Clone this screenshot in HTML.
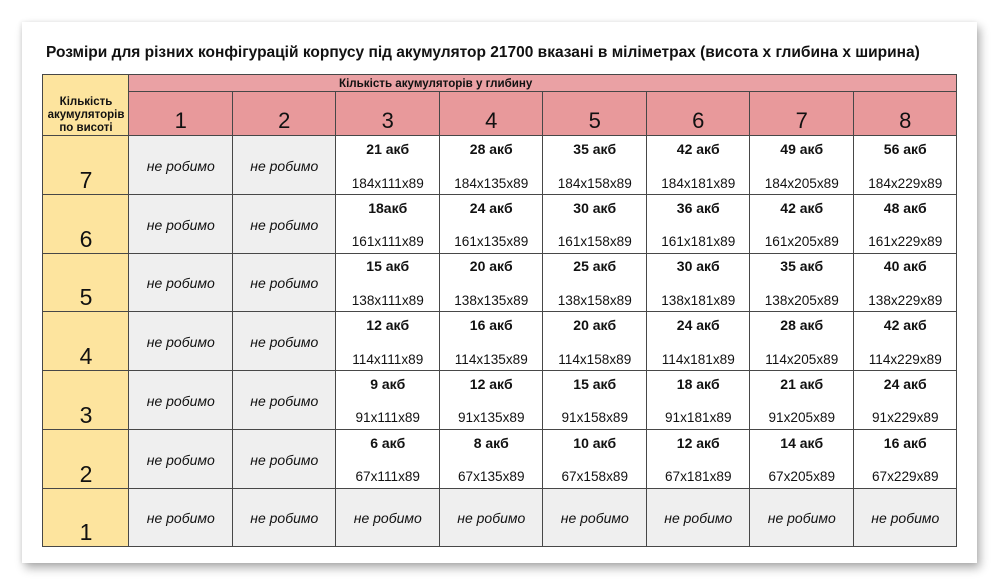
<!DOCTYPE html>
<html>
<head>
<meta charset="utf-8">
<style>
  html,body{margin:0;padding:0;background:#fff;}
  body{width:1000px;height:587px;position:relative;overflow:hidden;font-family:"Liberation Sans","Noto Sans CJK SC",sans-serif;color:#111;}
  .card{position:absolute;left:22px;top:22px;width:955px;height:541px;background:#fff;box-shadow:3px 5px 9px rgba(0,0,0,0.32),-1px 0 4px rgba(0,0,0,0.08);}
  .title{position:absolute;left:46px;top:42px;height:21px;line-height:21px;font-size:15.5px;font-weight:bold;white-space:nowrap;}
  .bg{position:absolute;}
  .v{position:absolute;width:1px;background:#474747;}
  .h{position:absolute;height:1px;background:#474747;}
  .sub{position:absolute;left:339px;top:75px;height:17px;line-height:17px;font-size:11.6px;font-weight:bold;white-space:nowrap;}
  .fh{position:absolute;left:43px;top:95.5px;width:86px;line-height:13px;font-size:11.5px;font-weight:bold;text-align:center;}
  .num{position:absolute;top:109px;width:103.5px;height:24px;line-height:24px;font-size:22px;text-align:center;}
  .row{position:absolute;left:0;width:1000px;height:58.71px;}
  .lab{position:absolute;left:43px;top:32px;width:86px;height:24px;line-height:24px;text-align:center;font-size:23px;}
  .nr{position:absolute;top:20px;width:103.5px;height:20px;line-height:20px;text-align:center;font-style:italic;font-size:14px;white-space:nowrap;}
  .d{position:absolute;top:0;width:103.5px;height:58px;}
  .d b{position:absolute;top:4px;left:0;right:0;line-height:18px;text-align:center;font-size:14px;white-space:nowrap;}
  .d span{position:absolute;top:37.5px;left:0;right:0;line-height:20px;text-align:center;font-size:13.6px;white-space:nowrap;}
</style>
</head>
<body>
<div class="card"></div>
<div class="title">Розміри для різних конфігурацій корпусу під акумулятор 21700 вказані в міліметрах (висота х глибина х ширина)</div>

<!-- backgrounds -->
<div class="bg" style="left:43px;top:75px;width:86px;height:472px;background:#fde49e;"></div>
<div class="bg" style="left:129px;top:75px;width:828px;height:61px;background:#e8999b;"></div>
<div class="bg" style="left:129px;top:75px;width:828px;height:17px;background:#eaa1a4;"></div>
<div class="bg" style="left:129px;top:136px;width:207px;height:411px;background:#efefef;"></div>
<div class="bg" style="left:336px;top:488.29px;width:621px;height:58.71px;background:#efefef;"></div>

<!-- header text -->
<div class="sub">Кількість акумуляторів у глибину</div>
<div class="fh">Кількість<br>акумуляторів<br>по висоті</div>
<div class="num" style="left:129px">1</div>
<div class="num" style="left:232.5px">2</div>
<div class="num" style="left:336px">3</div>
<div class="num" style="left:439.5px">4</div>
<div class="num" style="left:543px">5</div>
<div class="num" style="left:646.5px">6</div>
<div class="num" style="left:750px">7</div>
<div class="num" style="left:853.5px">8</div>

<!-- row 7 -->
<div class="row" style="top:136px">
  <div class="lab">7</div>
  <div class="nr" style="left:129px">не робимо</div>
  <div class="nr" style="left:232.5px">не робимо</div>
  <div class="d" style="left:336px"><b>21 акб</b><span>184x111x89</span></div>
  <div class="d" style="left:439.5px"><b>28 акб</b><span>184x135x89</span></div>
  <div class="d" style="left:543px"><b>35 акб</b><span>184x158x89</span></div>
  <div class="d" style="left:646.5px"><b>42 акб</b><span>184x181x89</span></div>
  <div class="d" style="left:750px"><b>49 акб</b><span>184x205x89</span></div>
  <div class="d" style="left:853.5px"><b>56 акб</b><span>184x229x89</span></div>
</div>
<!-- row 6 -->
<div class="row" style="top:194.71px">
  <div class="lab">6</div>
  <div class="nr" style="left:129px">не робимо</div>
  <div class="nr" style="left:232.5px">не робимо</div>
  <div class="d" style="left:336px"><b>18акб</b><span>161x111x89</span></div>
  <div class="d" style="left:439.5px"><b>24 акб</b><span>161x135x89</span></div>
  <div class="d" style="left:543px"><b>30 акб</b><span>161x158x89</span></div>
  <div class="d" style="left:646.5px"><b>36 акб</b><span>161x181x89</span></div>
  <div class="d" style="left:750px"><b>42 акб</b><span>161x205x89</span></div>
  <div class="d" style="left:853.5px"><b>48 акб</b><span>161x229x89</span></div>
</div>
<!-- row 5 -->
<div class="row" style="top:253.43px">
  <div class="lab">5</div>
  <div class="nr" style="left:129px">не робимо</div>
  <div class="nr" style="left:232.5px">не робимо</div>
  <div class="d" style="left:336px"><b>15 акб</b><span>138x111x89</span></div>
  <div class="d" style="left:439.5px"><b>20 акб</b><span>138x135x89</span></div>
  <div class="d" style="left:543px"><b>25 акб</b><span>138x158x89</span></div>
  <div class="d" style="left:646.5px"><b>30 акб</b><span>138x181x89</span></div>
  <div class="d" style="left:750px"><b>35 акб</b><span>138x205x89</span></div>
  <div class="d" style="left:853.5px"><b>40 акб</b><span>138x229x89</span></div>
</div>
<!-- row 4 -->
<div class="row" style="top:312.14px">
  <div class="lab">4</div>
  <div class="nr" style="left:129px">не робимо</div>
  <div class="nr" style="left:232.5px">не робимо</div>
  <div class="d" style="left:336px"><b>12 акб</b><span>114x111x89</span></div>
  <div class="d" style="left:439.5px"><b>16 акб</b><span>114x135x89</span></div>
  <div class="d" style="left:543px"><b>20 акб</b><span>114x158x89</span></div>
  <div class="d" style="left:646.5px"><b>24 акб</b><span>114x181x89</span></div>
  <div class="d" style="left:750px"><b>28 акб</b><span>114x205x89</span></div>
  <div class="d" style="left:853.5px"><b>42 акб</b><span>114x229x89</span></div>
</div>
<!-- row 3 -->
<div class="row" style="top:370.86px">
  <div class="lab">3</div>
  <div class="nr" style="left:129px">не робимо</div>
  <div class="nr" style="left:232.5px">не робимо</div>
  <div class="d" style="left:336px"><b>9 акб</b><span>91x111x89</span></div>
  <div class="d" style="left:439.5px"><b>12 акб</b><span>91x135x89</span></div>
  <div class="d" style="left:543px"><b>15 акб</b><span>91x158x89</span></div>
  <div class="d" style="left:646.5px"><b>18 акб</b><span>91x181x89</span></div>
  <div class="d" style="left:750px"><b>21 акб</b><span>91x205x89</span></div>
  <div class="d" style="left:853.5px"><b>24 акб</b><span>91x229x89</span></div>
</div>
<!-- row 2 -->
<div class="row" style="top:429.57px">
  <div class="lab">2</div>
  <div class="nr" style="left:129px">не робимо</div>
  <div class="nr" style="left:232.5px">не робимо</div>
  <div class="d" style="left:336px"><b>6 акб</b><span>67x111x89</span></div>
  <div class="d" style="left:439.5px"><b>8 акб</b><span>67x135x89</span></div>
  <div class="d" style="left:543px"><b>10 акб</b><span>67x158x89</span></div>
  <div class="d" style="left:646.5px"><b>12 акб</b><span>67x181x89</span></div>
  <div class="d" style="left:750px"><b>14 акб</b><span>67x205x89</span></div>
  <div class="d" style="left:853.5px"><b>16 акб</b><span>67x229x89</span></div>
</div>
<!-- row 1 -->
<div class="row" style="top:488.29px">
  <div class="lab">1</div>
  <div class="nr" style="left:129px">не робимо</div>
  <div class="nr" style="left:232.5px">не робимо</div>
  <div class="nr" style="left:336px">не робимо</div>
  <div class="nr" style="left:439.5px">не робимо</div>
  <div class="nr" style="left:543px">не робимо</div>
  <div class="nr" style="left:646.5px">не робимо</div>
  <div class="nr" style="left:750px">не робимо</div>
  <div class="nr" style="left:853.5px">не робимо</div>
</div>

<!-- grid lines: vertical -->
<div class="v" style="left:42px;top:75px;height:472px"></div>
<div class="v" style="left:128px;top:75px;height:472px"></div>
<div class="v" style="left:232px;top:92px;height:455px"></div>
<div class="v" style="left:335px;top:92px;height:455px"></div>
<div class="v" style="left:439px;top:92px;height:455px"></div>
<div class="v" style="left:542px;top:92px;height:455px"></div>
<div class="v" style="left:646px;top:92px;height:455px"></div>
<div class="v" style="left:749px;top:92px;height:455px"></div>
<div class="v" style="left:853px;top:92px;height:455px"></div>
<div class="v" style="left:956px;top:75px;height:472px"></div>
<!-- horizontal -->
<div class="h" style="left:42px;top:74px;width:915px"></div>
<div class="h" style="left:128px;top:91px;width:829px"></div>
<div class="h" style="left:42px;top:135px;width:915px"></div>
<div class="h" style="left:42px;top:194px;width:915px"></div>
<div class="h" style="left:42px;top:253px;width:915px"></div>
<div class="h" style="left:42px;top:311px;width:915px"></div>
<div class="h" style="left:42px;top:370px;width:915px"></div>
<div class="h" style="left:42px;top:429px;width:915px"></div>
<div class="h" style="left:42px;top:488px;width:915px"></div>
<div class="h" style="left:42px;top:546px;width:915px"></div>
</body>
</html>
